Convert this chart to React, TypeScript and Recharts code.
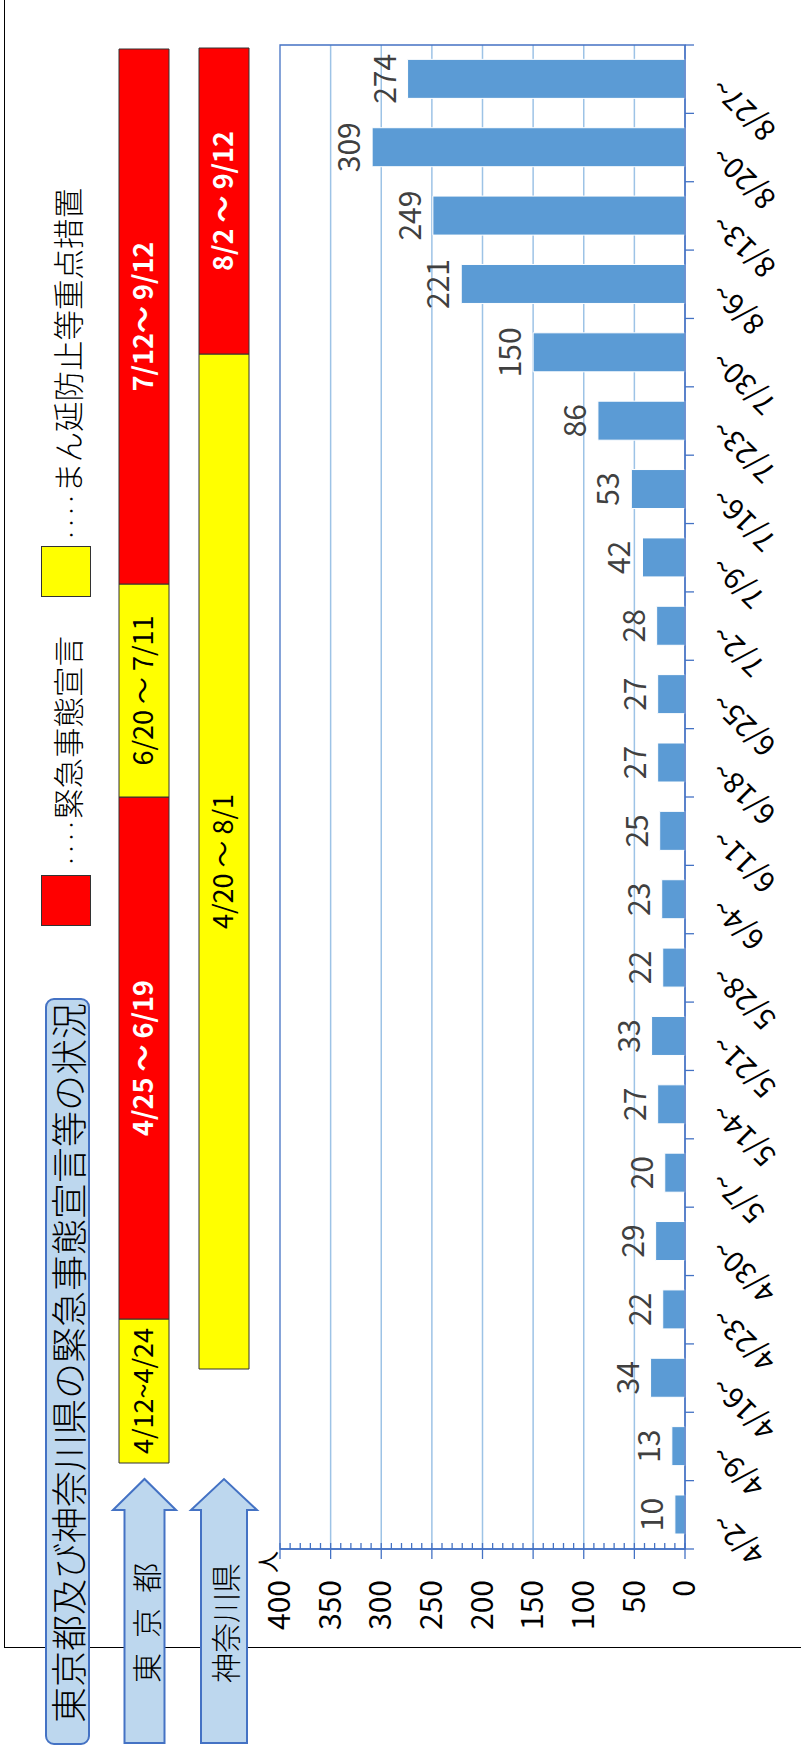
import React from 'react';
import {
  BarChart, Bar, XAxis, YAxis, CartesianGrid, ReferenceArea, LabelList, Cell,
} from 'recharts';

// weekly counts (people), week starting date
const weeks = [
  '4/2~', '4/9~', '4/16~', '4/23~', '4/30~', '5/7~', '5/14~', '5/21~', '5/28~', '6/4~', '6/11~',
  '6/18~', '6/25~', '7/2~', '7/9~', '7/16~', '7/23~', '7/30~', '8/6~', '8/13~', '8/20~', '8/27~',
];
const cases = [10, 13, 34, 22, 29, 20, 27, 33, 22, 23, 25, 27, 27, 28, 42, 53, 86, 150, 221, 249, 309, 274];
const valueTicks = [0, 50, 100, 150, 200, 250, 300, 350, 400];
const gridValues = [50, 100, 150, 200, 250, 300, 350];

// declaration periods, drawn on the slide's schematic timeline (not to scale in days)
const regions = ['東京都', '神奈川県'];
const periodLead = [290, 384];
const periodLengths = [[144, 522, 213, 535], [1015, 306, 0, 0]];
const periodKinds = [['mambo', 'emergency', 'mambo', 'emergency'], ['mambo', 'emergency', '', '']];
const periodText = [
  ['4/12~4/24', '4/25 ～ 6/19', '6/20 ～ 7/11', '7/12～ 9/12'],
  ['4/20 ～ 8/1', '8/2 ～ 9/12', '', ''],
];

const BLUE = '#4472C4';
const BAR = '#5B9BD5';
const GRID = '#9DC3E6';
const RED = '#FF0000';
const YELLOW = '#FFFF00';
const W = 1753;
const H = 801;

const weekRows = weeks.map((week, i) => ({ week, cases: cases[i] }));
const minorTicks = Array.from({ length: 41 }, (_, i) => i * 10);

const periodRows = regions.map((region, r) => {
  const row: Record<string, number | string> = { region, lead: periodLead[r] };
  periodLengths[r].forEach((v, i) => { row[`s${i}`] = v; });
  return row;
});

const kindColor = (k: string) => (k === 'emergency' ? RED : YELLOW);

function ValueTick(props: any) {
  const { x, y, payload } = props;
  const major = valueTicks.includes(payload.value);
  return (
    <g>
      <line x1={major ? x - 10 : x} x2={x + 6} y1={y} y2={y} stroke={BLUE} strokeWidth={1.3} />
      {major && (
        <text x={x - 31} y={y} dy="0.34em" textAnchor="end" fontSize={30} fill="#000">
          {payload.value}
        </text>
      )}
    </g>
  );
}

function WeekTick(props: any) {
  const { x, y, payload, index } = props;
  const off = payload.offset ?? 0;
  const tx = x + 4;
  const ty = y + 39;
  return (
    <g>
      <line x1={x - off} x2={x - off} y1={y} y2={y + 9} stroke={BLUE} strokeWidth={1.3} />
      {index === weeks.length - 1 && (
        <line x1={x + off} x2={x + off} y1={y} y2={y + 9} stroke={BLUE} strokeWidth={1.3} />
      )}
      <text x={tx} y={ty} transform={`rotate(-45 ${tx} ${ty})`} textAnchor="end" fontSize={29} fill="#000">
        {payload.value}
      </text>
    </g>
  );
}

const periodLabel = (seg: number) => (props: any) => {
  const vb = props.viewBox ?? props;
  const { x, y, width, height } = vb;
  const idx = props.index;
  const text = periodText[idx]?.[seg];
  if (!text || !width) return null;
  const red = periodKinds[idx][seg] === 'emergency';
  return (
    <text
      x={x + width / 2}
      y={y + height / 2}
      dy="0.35em"
      textAnchor="middle"
      fontSize={27}
      fontWeight={red ? 700 : 400}
      fill={red ? '#fff' : '#000'}
    >
      {text}
    </text>
  );
};

function Arrow({ top, shaft, head, label, spacing }: { top: number; shaft: number; head: number; label: string; spacing: number }) {
  const cy = top + head / 2;
  const s0 = cy - shaft / 2;
  const s1 = cy + shaft / 2;
  const pts = [
    [10, s0], [243, s0], [243, top], [274, cy], [243, top + head], [243, s1], [10, s1],
  ].map(p => p.join(',')).join(' ');
  return (
    <>
      <svg width={280} height={top + head + 4} style={{ position: 'absolute', left: 0, top: 0 }}>
        <polygon points={pts} fill="#BDD7EE" stroke={BLUE} strokeWidth={2} />
      </svg>
      <div
        style={{
          position: 'absolute', left: 70, top: cy - 18, height: 36, lineHeight: '36px',
          fontSize: 30, fontWeight: 300, letterSpacing: spacing, color: '#000', whiteSpace: 'nowrap',
        }}
      >
        {label}
      </div>
    </>
  );
}

function LegendItem({ left, color, dotsLeft, text }: { left: number; color: string; dotsLeft: number; text: string }) {
  return (
    <>
      <div style={{ position: 'absolute', left, top: 41, width: 51, height: 50, background: color, border: '1px solid #333', boxSizing: 'border-box' }} />
      <div style={{ position: 'absolute', left: dotsLeft, top: 48, height: 38, lineHeight: '38px', whiteSpace: 'nowrap', color: '#000', fontWeight: 300 }}>
        <span style={{ fontSize: 24 }}>‥‥</span>
        <span style={{ fontSize: 30.5 }}>{text}</span>
      </div>
    </>
  );
}

export default function App() {
  return (
    <div style={{ position: 'absolute', left: 0, top: 0, width: H, height: W, overflow: 'hidden', background: '#fff' }}>
      <div
        style={{
          position: 'absolute', left: 0, top: 0, width: W, height: H,
          transformOrigin: '0 0', transform: `translateY(${W}px) rotate(-90deg)`,
          fontFamily: "'Noto Sans CJK JP', 'Noto Sans', sans-serif",
        }}
      >
        {/* slide frame */}
        <div style={{ position: 'absolute', left: 105, top: 4, width: 1700, height: 900, borderTop: '1.5px solid #000', borderLeft: '1.5px solid #000' }} />

        {/* title */}
        <div
          style={{
            position: 'absolute', left: 8, top: 45, width: 747, height: 45, boxSizing: 'border-box',
            background: '#BDD7EE', border: `2px solid ${BLUE}`, borderRadius: 9,
            paddingLeft: 20, fontSize: 36, fontWeight: 300, lineHeight: '41px', color: '#000', whiteSpace: 'nowrap',
          }}
        >
          東京都及び神奈川県の緊急事態宣言等の状況
        </div>

        <LegendItem left={827} color={RED} dotsLeft={886} text="緊急事態宣言" />
        <LegendItem left={1156} color={YELLOW} dotsLeft={1212} text="まん延防止等重点措置" />

        {/* period bars */}
        <div style={{ position: 'absolute', left: 0, top: 0 }}>
          <BarChart width={W} height={264} data={periodRows} layout="vertical" margin={{ top: 104, right: 0, bottom: 0, left: 0 }}>
            <XAxis type="number" domain={[0, W]} hide />
            <YAxis type="category" dataKey="region" hide width={0} />
            <Bar dataKey="lead" stackId="p" fill="transparent" barSize={50} isAnimationActive={false} />
            {[0, 1, 2, 3].map(seg => (
              <Bar key={seg} dataKey={`s${seg}`} stackId="p" barSize={50} stroke="#333" strokeWidth={1} isAnimationActive={false}>
                {periodRows.map((_, r) => (
                  <Cell key={r} fill={kindColor(periodKinds[r][seg])} />
                ))}
                <LabelList content={periodLabel(seg)} />
              </Bar>
            ))}
          </BarChart>
        </div>

        <Arrow top={113} shaft={40} head={63} label="東京都" spacing={15} />
        <Arrow top={191} shaft={46} head={66} label="神奈川県" spacing={0} />

        {/* weekly counts */}
        <div style={{ position: 'absolute', left: 0, top: 0 }}>
          <BarChart width={W} height={H} data={weekRows} margin={{ top: 280, right: 45, bottom: 16, left: 100 }}>
            <CartesianGrid vertical={false} horizontalValues={gridValues} stroke={GRID} strokeWidth={1.5} />
            <XAxis
              dataKey="week" height={100} interval={0} tickLine={false} tickSize={0} tickMargin={0}
              axisLine={{ stroke: BLUE, strokeWidth: 1.3 }} tick={<WeekTick />}
            />
            <YAxis
              type="number" domain={[0, 400]} ticks={minorTicks} interval={0} width={104}
              tickLine={false} tickSize={0} tickMargin={0}
              axisLine={{ stroke: BLUE, strokeWidth: 1.3 }} tick={<ValueTick />}
            />
            <ReferenceArea y1={0} y2={400} fill="none" stroke={BLUE} strokeWidth={1.3} />
            <Bar dataKey="cases" fill={BAR} stroke="#fff" strokeWidth={1} barSize={39} isAnimationActive={false}>
              <LabelList dataKey="cases" position="top" offset={12} fill="#404040" fontSize={30} />
            </Bar>
          </BarChart>
        </div>

        <div style={{ position: 'absolute', left: 180, top: 254, fontSize: 22, lineHeight: '24px', color: '#000' }}>人</div>
      </div>
    </div>
  );
}
